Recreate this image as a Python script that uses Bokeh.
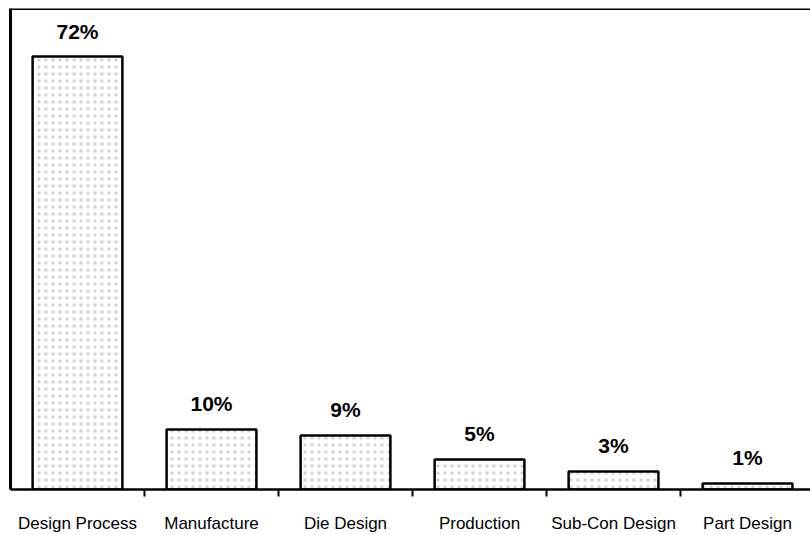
from bokeh.plotting import figure
from bokeh.models import ColumnDataSource, Range1d, FixedTicker, Span, LabelSet
from bokeh.core.properties import value
from bokeh.embed import file_html
from bokeh.resources import INLINE

categories = ["Design Process", "Manufacture", "Die Design", "Production", "Sub-Con Design", "Part Design"]
values = [72, 10, 9, 5, 3, 1]
labels = ["72%", "10%", "9%", "5%", "3%", "1%"]

xs = [i + 0.5 for i in range(len(categories))]
source = ColumnDataSource(dict(x=xs, top=values, label=labels))

p = figure(width=810, height=535, output_backend="svg", toolbar_location=None,
           x_range=Range1d(0, 5.97), y_range=Range1d(0, 80),
           min_border_left=10, min_border_right=0, min_border_top=8, min_border_bottom=46)
p.outline_line_color = None
p.xgrid.visible = False
p.ygrid.visible = False
p.background_fill_color = "white"
p.border_fill_color = "white"

p.vbar(x="x", top="top", width=0.67, bottom=0, source=source,
       fill_color="white", line_color="black", line_width=2.5,
       hatch_pattern="dot", hatch_color="#a0a0a0", hatch_scale=7, hatch_weight=0.8, hatch_alpha=0.45)

lbl = LabelSet(x="x", y="top", text="label", source=source, text_align="center",
               text_baseline="alphabetic", y_offset=18, text_font=value("Liberation Sans"),
               text_font_size="21px", text_font_style="bold", text_color="black")
p.add_layout(lbl)

top_line = Span(location=80, dimension="width", line_color="black", line_width=3)
p.add_layout(top_line)

xa = p.xaxis[0]
xa.ticker = FixedTicker(ticks=xs, minor_ticks=[i for i in range(1, len(categories))])
xa.major_label_overrides = {x: c for x, c in zip(xs, categories)}
xa.major_tick_out = 0
xa.major_tick_in = 0
xa.minor_tick_out = 7
xa.minor_tick_in = 0
xa.minor_tick_line_width = 2
xa.minor_tick_line_color = "black"
xa.axis_line_width = 2.5
xa.axis_line_color = "black"
xa.major_label_standoff = 17
xa.major_label_text_font = "Liberation Sans"
xa.major_label_text_font_size = "17px"
xa.major_label_text_color = "black"

ya = p.yaxis[0]
ya.ticker = FixedTicker(ticks=[])
ya.major_tick_out = 0
ya.major_tick_in = 0
ya.minor_tick_out = 0
ya.minor_tick_in = 0
ya.major_label_text_font_size = "0px"
ya.axis_line_width = 3
ya.axis_line_color = "black"

open("out.html", "w").write(file_html(p, INLINE))
